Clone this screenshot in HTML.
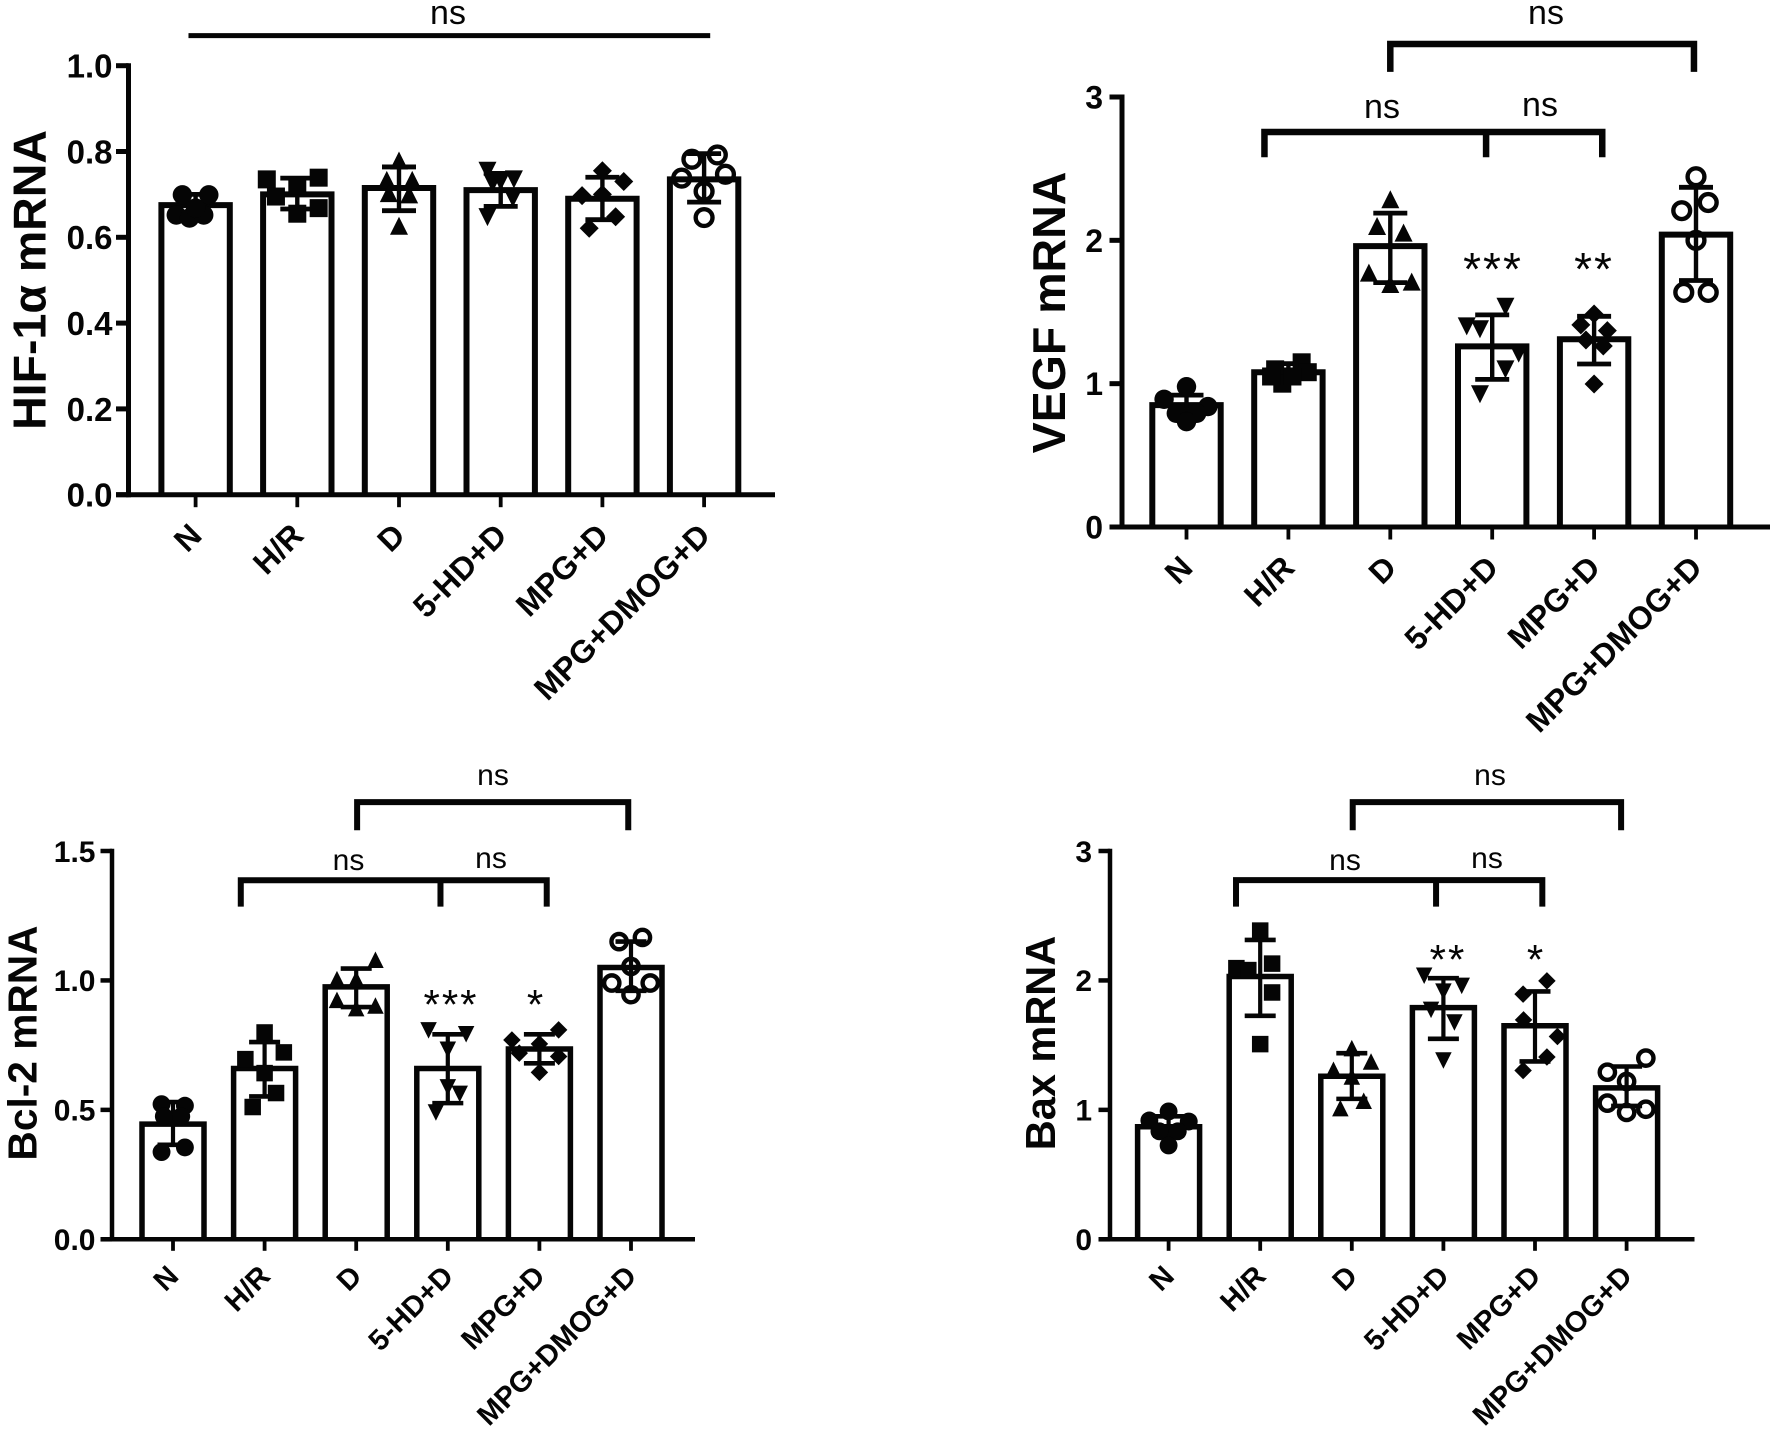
<!DOCTYPE html>
<html lang="en">
<head>
<meta charset="utf-8">
<title>mRNA expression bar charts</title>
<style>
html,body{margin:0;padding:0;background:#fff;}
svg{display:block;}
text{font-family:"Liberation Sans",Arial,sans-serif;fill:#050505;}
.ytitle,.tick,.cat{font-weight:700;}
</style>
</head>
<body>
<svg id="figure" xmlns="http://www.w3.org/2000/svg" width="1772" height="1435" viewBox="0 0 1772 1435">
  <rect x="0" y="0" width="1772" height="1435" fill="#fff"/>

  <g id="panel-hif">
    <text class="ytitle" font-size="46.5" text-anchor="middle" transform="translate(45.5 280) rotate(-90)">HIF-1α mRNA</text>
    <text font-size="34" text-anchor="middle" x="448" y="24">ns</text>
  </g>

  <g id="panel-vegf">
    <text class="ytitle" font-size="46.5" text-anchor="middle" transform="translate(1065 312.5) rotate(-90)">VEGF mRNA</text>
    <text font-size="34" text-anchor="middle" x="1546" y="24">ns</text>
    <text font-size="34" text-anchor="middle" x="1382" y="118">ns</text>
    <text font-size="34" text-anchor="middle" x="1540" y="116">ns</text>
    <text font-size="46" letter-spacing="2" text-anchor="middle" x="1493" y="285">***</text>
    <text font-size="46" letter-spacing="2" text-anchor="middle" x="1594" y="285">**</text>
  </g>

  <g id="panel-bcl">
    <text class="ytitle" font-size="40.7" text-anchor="middle" transform="translate(36.5 1043) rotate(-90)">Bcl-2 mRNA</text>
    <text font-size="30" text-anchor="middle" x="493" y="785">ns</text>
    <text font-size="30" text-anchor="middle" x="348.5" y="870">ns</text>
    <text font-size="30" text-anchor="middle" x="491" y="868">ns</text>
    <text font-size="42" letter-spacing="2" text-anchor="middle" x="451" y="1019">***</text>
    <text font-size="42" letter-spacing="2" text-anchor="middle" x="536" y="1019">*</text>
  </g>

  <g id="panel-bax">
    <text class="ytitle" font-size="41.5" text-anchor="middle" transform="translate(1055 1043) rotate(-90)">Bax mRNA</text>
    <text font-size="30" text-anchor="middle" x="1490" y="785">ns</text>
    <text font-size="30" text-anchor="middle" x="1345" y="870">ns</text>
    <text font-size="30" text-anchor="middle" x="1487" y="868">ns</text>
    <text font-size="42" letter-spacing="2" text-anchor="middle" x="1448" y="974">**</text>
    <text font-size="42" letter-spacing="2" text-anchor="middle" x="1536" y="974">*</text>
  </g>
</svg>

<script>
// ---------- shared ----------
const categories = ["N", "H/R", "D", "5-HD+D", "MPG+D", "MPG+DMOG+D"];
const markerShapes = ["circle", "square", "triangle", "invtriangle", "diamond", "ring"];

// ---------- HIF-1a ----------
const hifTicks = ["0.0", "0.2", "0.4", "0.6", "0.8", "1.0"];
const hifBars = [0.675, 0.70, 0.715, 0.71, 0.69, 0.735];
const hifErrHigh = [0.70, 0.738, 0.764, 0.749, 0.740, 0.795];
const hifErrLow = [0.655, 0.666, 0.662, 0.672, 0.641, 0.682];
const hifPoints = [
  [0.699, 0.699, 0.652, 0.645, 0.652, 0.668],
  [0.735, 0.695, 0.720, 0.739, 0.655, 0.668],
  [0.779, 0.734, 0.734, 0.703, 0.700, 0.627],
  [0.755, 0.735, 0.726, 0.691, 0.647, 0.730],
  [0.755, 0.730, 0.697, 0.700, 0.648, 0.621],
  [0.782, 0.792, 0.738, 0.747, 0.707, 0.646]
];
const hifJitter = [
  [-0.13, 0.13, -0.19, -0.06, 0.08, 0],
  [-0.30, -0.21, 0, 0.21, 0, 0.21],
  [0, -0.12, 0.13, -0.10, 0.10, 0],
  [-0.13, 0.13, -0.08, 0.12, -0.13, 0],
  [0, 0.21, -0.20, 0, 0.13, -0.13],
  [-0.12, 0.13, -0.22, 0.21, 0, 0]
];
// bracket = [from, to, level, drop level, optional middle drop] in category / value units
const hifBrackets = [[-0.07, 5.06, 1.07, 1.07, null]];

// ---------- VEGF ----------
const vegfTicks = ["0", "1", "2", "3"];
const vegfBars = [0.85, 1.08, 1.96, 1.26, 1.31, 2.04];
const vegfErrHigh = [0.92, 1.14, 2.19, 1.48, 1.47, 2.37];
const vegfErrLow = [0.79, 1.04, 1.705, 1.03, 1.137, 1.72];
const vegfPoints = [
  [0.979, 0.891, 0.840, 0.793, 0.793, 0.735],
  [1.10, 1.149, 1.08, 1.0, 1.05, 1.05],
  [2.287, 2.10, 2.054, 1.775, 1.695, 1.712],
  [1.537, 1.40, 1.38, 1.21, 1.10, 0.926],
  [1.486, 1.41, 1.37, 1.305, 1.263, 0.998],
  [2.444, 2.264, 2.207, 2.0, 1.637, 1.637]
];
const vegfJitter = [
  [0, -0.22, 0.21, -0.10, 0.10, 0],
  [-0.13, 0.13, 0.19, -0.06, -0.17, 0.04],
  [0, -0.13, 0.13, -0.21, 0, 0.21],
  [0.13, -0.25, -0.12, 0.26, 0.13, -0.12],
  [0, -0.13, 0.13, -0.08, 0.09, 0],
  [0, 0.12, -0.14, 0, -0.12, 0.12]
];
const vegfBrackets = [
  [2.0, 4.98, 3.37, 3.175, null],
  [0.765, 4.08, 2.756, 2.58, 2.94]
];

// ---------- Bcl-2 ----------
const bclTicks = ["0.0", "0.5", "1.0", "1.5"];
const bclBars = [0.445, 0.66, 0.975, 0.66, 0.735, 1.05];
const bclErrHigh = [0.53, 0.762, 1.046, 0.792, 0.792, 1.15];
const bclErrLow = [0.365, 0.552, 0.897, 0.526, 0.68, 0.96];
const bclPoints = [
  [0.522, 0.516, 0.475, 0.475, 0.337, 0.355],
  [0.799, 0.722, 0.696, 0.642, 0.565, 0.511],
  [1.08, 1.005, 1.005, 0.925, 0.893, 0.903],
  [0.807, 0.792, 0.732, 0.587, 0.562, 0.49],
  [0.809, 0.77, 0.755, 0.719, 0.706, 0.645],
  [1.15, 1.166, 1.054, 0.99, 0.99, 0.945]
];
const bclJitter = [
  [-0.125, 0.13, -0.10, 0.09, -0.125, 0.13],
  [0, 0.21, -0.21, 0, 0.125, -0.13],
  [0.21, -0.21, 0, -0.21, 0, 0.21],
  [-0.21, 0.20, 0, 0, 0.13, -0.13],
  [0.21, -0.30, 0, -0.22, 0.21, 0],
  [-0.13, 0.125, 0, -0.21, 0.21, 0]
];
const bclBrackets = [
  [2.01, 4.97, 1.689, 1.58, null],
  [0.74, 4.08, 1.387, 1.285, 2.92]
];

// ---------- Bax ----------
const baxTicks = ["0", "1", "2", "3"];
const baxBars = [0.87, 2.03, 1.26, 1.79, 1.65, 1.17];
const baxErrHigh = [0.95, 2.313, 1.438, 2.017, 1.915, 1.335];
const baxErrLow = [0.80, 1.727, 1.085, 1.549, 1.374, 1.03];
const baxPoints = [
  [0.988, 0.918, 0.91, 0.834, 0.834, 0.725],
  [2.385, 2.095, 2.08, 2.13, 1.907, 1.508],
  [1.477, 1.374, 1.31, 1.258, 1.07, 1.013],
  [2.036, 1.958, 1.914, 1.773, 1.675, 1.381],
  [1.997, 1.894, 1.695, 1.567, 1.408, 1.304],
  [1.40, 1.291, 1.219, 1.052, 1.005, 0.98]
];
const baxJitter = [
  [0, -0.21, 0.22, -0.10, 0.10, 0],
  [0, -0.26, -0.13, 0.13, 0.13, 0],
  [0, 0.21, -0.20, 0, 0.13, -0.125],
  [-0.21, 0.20, 0, -0.135, 0.12, 0],
  [0.13, -0.13, -0.125, 0.245, 0.13, -0.13],
  [0.21, -0.21, 0, -0.21, 0.21, 0]
];
const baxBrackets = [
  [2.01, 4.94, 3.378, 3.16, null],
  [0.736, 4.08, 2.775, 2.57, 2.92]
];

// ---------- layout (not data) ----------
const NS = "http://www.w3.org/2000/svg";
const panels = [
  { id: "panel-hif", ticks: hifTicks, yMax: 1.0, bars: hifBars, high: hifErrHigh, low: hifErrLow, points: hifPoints, jitter: hifJitter, brackets: hifBrackets,
    xFirst: 195.6, step: 101.7, yTop: 65.7, yBottom: 494.7, axisX: 128.5, axisEnd: 775, barW: 68.4, barStroke: 6, axisStroke: 5, tickLen: 12.5, tickFont: 33, tickEnd: 112.5, catFont: 32, marker: 18, capW: 34, errStroke: 4.4, bracketStroke: 5 },
  { id: "panel-vegf", ticks: vegfTicks, yMax: 3, bars: vegfBars, high: vegfErrHigh, low: vegfErrLow, points: vegfPoints, jitter: vegfJitter, brackets: vegfBrackets,
    xFirst: 1186.5, step: 101.9, yTop: 97, yBottom: 527, axisX: 1122, axisEnd: 1770, barW: 68.4, barStroke: 6, axisStroke: 5, tickLen: 12.5, tickFont: 32, tickEnd: 1103, catFont: 32, marker: 18, capW: 34, errStroke: 4.4, bracketStroke: 6.5 },
  { id: "panel-bcl", ticks: bclTicks, yMax: 1.5, bars: bclBars, high: bclErrHigh, low: bclErrLow, points: bclPoints, jitter: bclJitter, brackets: bclBrackets,
    xFirst: 173, step: 91.6, yTop: 851, yBottom: 1239.3, axisX: 112, axisEnd: 695, barW: 62, barStroke: 5.5, axisStroke: 4.5, tickLen: 11.5, tickFont: 30, tickEnd: 95.5, catFont: 29, marker: 16.5, capW: 31, errStroke: 4.2, bracketStroke: 6 },
  { id: "panel-bax", ticks: baxTicks, yMax: 3, bars: baxBars, high: baxErrHigh, low: baxErrLow, points: baxPoints, jitter: baxJitter, brackets: baxBrackets,
    xFirst: 1168.6, step: 91.6, yTop: 851, yBottom: 1239.3, axisX: 1110, axisEnd: 1694.5, barW: 62, barStroke: 5.5, axisStroke: 4.5, tickLen: 11.5, tickFont: 30, tickEnd: 1092, catFont: 29, marker: 16.5, capW: 31, errStroke: 4.2, bracketStroke: 6 }
];

function make(tag, attrs, parent) {
  const el = document.createElementNS(NS, tag);
  for (const k in attrs) el.setAttribute(k, attrs[k]);
  parent.appendChild(el);
  return el;
}
function line(parent, x1, y1, x2, y2, w) {
  return make("line", { x1: x1, y1: y1, x2: x2, y2: y2, stroke: "#050505", "stroke-width": w }, parent);
}
function drawMarker(parent, shape, cx, cy, s) {
  const h = s / 2;
  if (shape === "circle") return make("circle", { cx: cx, cy: cy, r: h + 0.7, fill: "#050505" }, parent);
  if (shape === "ring") return make("circle", { cx: cx, cy: cy, r: h - 0.6, fill: "none", stroke: "#050505", "stroke-width": 4.4 }, parent);
  if (shape === "square") return make("rect", { x: cx - h, y: cy - h, width: s, height: s, fill: "#050505" }, parent);
  let pts;
  if (shape === "triangle") pts = [[cx, cy - h], [cx + h, cy + h], [cx - h, cy + h]];
  else if (shape === "invtriangle") pts = [[cx - h, cy - h], [cx + h, cy - h], [cx, cy + h]];
  else pts = [[cx, cy - h - 0.5], [cx + h + 0.5, cy], [cx, cy + h + 0.5], [cx - h - 0.5, cy]];
  return make("polygon", { points: pts.map(p => p.join(",")).join(" "), fill: "#050505" }, parent);
}

panels.forEach(function (p) {
  const root = document.getElementById(p.id);
  const xScale = function (c) { return p.xFirst + c * p.step; };
  const yScale = function (v) { return p.yBottom - v / p.yMax * (p.yBottom - p.yTop); };

  // bars
  p.bars.forEach(function (v, i) {
    const bar = make("path", {
      d: "M" + (xScale(i) - p.barW / 2) + " " + p.yBottom + "V" + yScale(v) + "H" + (xScale(i) + p.barW / 2) + "V" + p.yBottom,
      fill: "#fff", stroke: "#050505", "stroke-width": p.barStroke
    }, root);
    
    
  });

  // error bars
  p.bars.forEach(function (v, i) {
    const g = make("g", {}, root);
    
    
    const x = xScale(i);
    line(g, x, yScale(p.high[i]), x, yScale(p.low[i]), p.errStroke);
    line(g, x - p.capW / 2, yScale(p.high[i]), x + p.capW / 2, yScale(p.high[i]), p.errStroke + 0.4);
    line(g, x - p.capW / 2, yScale(p.low[i]), x + p.capW / 2, yScale(p.low[i]), p.errStroke + 0.4);
  });

  // points
  p.points.forEach(function (group, i) {
    group.forEach(function (v, j) {
      const m = drawMarker(root, markerShapes[i], xScale(i + p.jitter[i][j]), yScale(v), p.marker);
      
      
    });
  });

  // axes
  const yAxis = line(root, p.axisX, p.yTop - p.axisStroke / 2, p.axisX, p.yBottom + p.axisStroke / 2, p.axisStroke);
  
  
  const tickLeft = p.axisX - p.tickLen;
  const xAxis = line(root, tickLeft, p.yBottom, p.axisEnd, p.yBottom, p.axisStroke);
  
  

  // y ticks
  p.ticks.forEach(function (label) {
    const y = yScale(parseFloat(label));
    const t = line(root, tickLeft, y, p.axisX, y, p.axisStroke);
    
    
    const txt = make("text", { class: "tick", x: p.tickEnd, y: y + p.tickFont * 0.36, "font-size": p.tickFont, "text-anchor": "end" }, root);
    txt.textContent = label;
    
    
  });

  // x ticks & labels
  categories.forEach(function (c, i) {
    const x = xScale(i);
    const t = line(root, x, p.yBottom, x, p.yBottom + p.tickLen, 3.8);
    
    
    const ax = x + p.catFont * 0.25;
    const ay = p.yBottom + p.catFont * 1.33;
    const txt = make("text", { class: "cat", "font-size": p.catFont, "text-anchor": "end", transform: "translate(" + ax + " " + ay + ") rotate(-45)" }, root);
    txt.textContent = c;
    
    
  });

  // brackets
  p.brackets.forEach(function (b) {
    const xa = xScale(b[0]), xb = xScale(b[1]), ya = yScale(b[2]), yd = yScale(b[3]);
    let d = "M" + xa + " " + yd + "V" + ya + "H" + xb + "V" + yd;
    if (b[4] !== null) d += "M" + xScale(b[4]) + " " + ya + "V" + yd;
    const br = make("path", { d: d, fill: "none", stroke: "#050505", "stroke-width": p.bracketStroke }, root);
    
    
  });
});
</script>
</body>
</html>
